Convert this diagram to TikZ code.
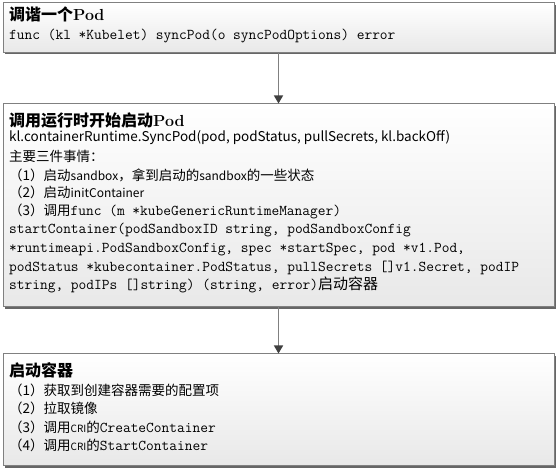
\documentclass[tikz,border=0pt]{standalone}
\usepackage{fontspec}
\newfontfamily\cjk{Noto Sans CJK SC}
\usetikzlibrary{arrows.meta,shadows}
\newcommand\xTitle{\fontsize{16}{18}\selectfont\cjk\bfseries}
\newcommand\xBody{\fontsize{13.5}{15}\selectfont\cjk}
\newcommand\xCode{\fontsize{15}{17}\selectfont\ttfamily}
\newcommand\xSmall{\fontsize{12}{14}\selectfont\cjk}
\newcommand\xTiny{\fontsize{10}{12}\selectfont\cjk}
\newcommand\xPod{{\fontsize{16}{18}\selectfont\rmfamily\bfseries Pod}}
\begin{document}
\begin{tikzpicture}[x=1pt,y=-1pt,
  box/.style={draw=black!50, line width=1pt, top color=white, bottom color=black!9,
    minimum width=551pt, inner sep=0pt,
    drop shadow={shadow xshift=1.6pt,shadow yshift=-1.6pt,fill=black!60,opacity=1}},
  txt/.style={anchor=base west, inner sep=0pt},
  arr/.style={draw=black!50, line width=1.4pt,
    -{Triangle[width=9pt,length=8pt,color=black!75]}}]
\useasboundingbox (0,0) rectangle (558,470);
\node[box, minimum height=49.5pt] (b1) at (278.5,27.75) {};
\node[box, minimum height=203pt] (b2) at (278.5,205.5) {};
\node[box, minimum height=112pt] (b3) at (278.5,410) {};
\draw[arr] (b1.south) -- (b2.north);
\draw[arr] (b2.south) -- (b3.north);
% box 1
\node[txt] (t1) at (9,21) {\xTitle 调谐一个\xPod};
\node[txt] (l1) at (9,40) {\xCode func (kl *Kubelet) syncPod(o syncPodOptions) error};
% box 2
\node[txt] (t2) at (9,127) {\xTitle 调用运行时开始启动\xPod};
\node[txt] (l2a) at (9,142) {\xBody kl.containerRuntime.SyncPod(pod, podStatus, pullSecrets, kl.backOff)};
\node[txt] (l2b) at (9,162) {\xBody 主要三件事情：};
\node[txt] (l2c) at (9,181) {\xBody （1）启动{\xSmall sandbox}，拿到启动的{\xSmall sandbox}的一些状态};
\node[txt] (l2d) at (9,198) {\xBody （2）启动{\xSmall initContainer}};
\node[txt] (l2e) at (9,216) {\xBody （3）调用{\xCode func (m *kubeGenericRuntimeManager)}};
\node[txt] (l2f) at (9,234) {\xCode startContainer(podSandboxID string, podSandboxConfig};
\node[txt] (l2g) at (9,253) {\xCode *runtimeapi.PodSandboxConfig, spec *startSpec, pod *v1.Pod,};
\node[txt] (l2h) at (9,272) {\xCode podStatus *kubecontainer.PodStatus, pullSecrets []v1.Secret, podIP};
\node[txt] (l2i) at (9,290) {\xCode string, podIPs []string) (string, error){\fontsize{15}{17}\selectfont\cjk 启动容器}};
% box 3
\node[txt] (t3) at (9,377) {\xTitle 启动容器};
\node[txt] (l3a) at (9,396) {\xBody （1）获取到创建容器需要的配置项};
\node[txt] (l3b) at (9,414) {\xBody （2）拉取镜像};
\node[txt] (l3c) at (9,433) {\xBody （3）调用{\xTiny CRI}的{\xCode CreateContainer}};
\node[txt] (l3d) at (9,451) {\xBody （4）调用{\xTiny CRI}的{\xCode StartContainer}};
\end{tikzpicture}
\end{document}
